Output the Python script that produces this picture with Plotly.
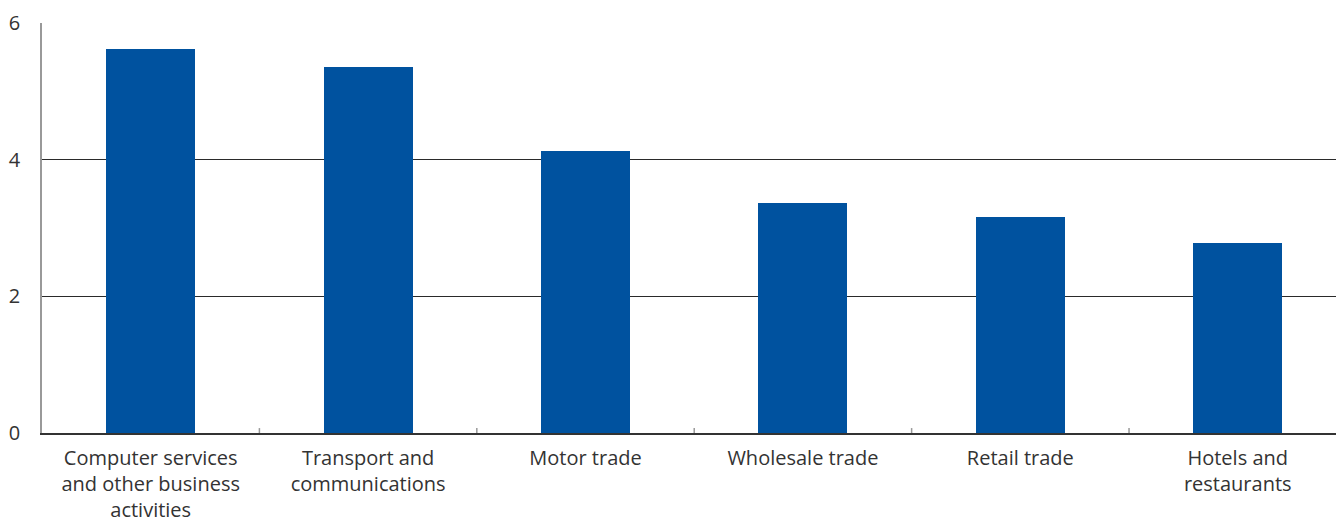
import plotly.graph_objects as go

categories = [
    "Computer services<br>and other business<br>activities",
    "Transport and<br>communications",
    "Motor trade",
    "Wholesale trade",
    "Retail trade",
    "Hotels and<br>restaurants",
]
values = [5.62, 5.36, 4.13, 3.37, 3.16, 2.78]
y_ticks = [0, 2, 4, 6]

fig = go.Figure(
    go.Bar(
        x=list(range(len(categories))),
        y=values,
        marker=dict(color="#00529F", line=dict(width=0)),
        width=0.41,
    )
)

font = dict(family="Open Sans, Noto Sans, sans-serif", size=20, color="#333333")

fig.update_layout(
    width=1336,
    height=523,
    margin=dict(l=42, r=0, t=23, b=90),
    paper_bgcolor="white",
    plot_bgcolor="white",
    showlegend=False,
    font=font,
    bargap=0,
)

fig.update_xaxes(
    tickmode="array",
    tickvals=list(range(len(categories))),
    ticktext=categories,
    range=[-0.5, 5.452],
    showgrid=False,
    zeroline=False,
    showline=True,
    linecolor="#333333",
    linewidth=1.5,
    ticks="",
    ticklabelstandoff=6,
    tickfont=font,
)

# Category boundary ticks drawn as short marks rising from the baseline
for b in range(1, len(categories)):
    fig.add_shape(
        type="line", xref="x", yref="paper",
        x0=b - 0.5, x1=b - 0.5, y0=0, y1=0.012,
        line=dict(color="#999999", width=1.5),
    )

fig.update_yaxes(
    range=[0, 6],
    tickvals=y_ticks,
    showgrid=True,
    gridcolor="#2a2a2a",
    gridwidth=1,
    zeroline=False,
    showline=True,
    linecolor="#999999",
    linewidth=1.5,
    ticks="",
    ticklabelstandoff=16,
    tickfont=font,
)

fig.write_html("out.html")
